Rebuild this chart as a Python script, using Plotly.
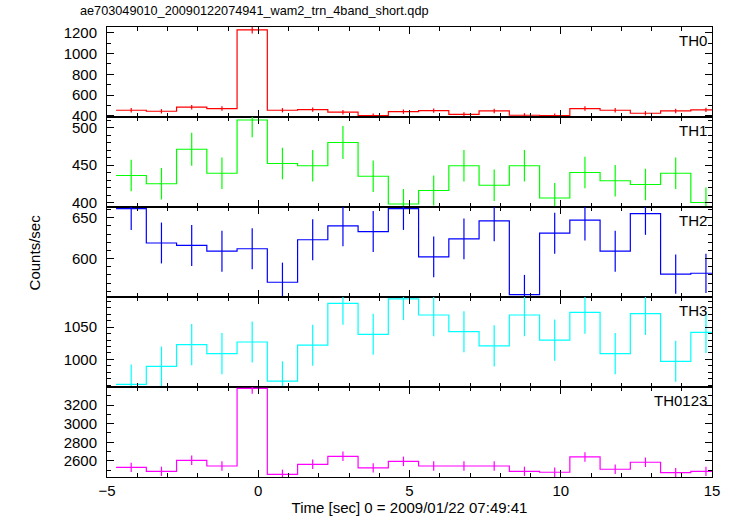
import plotly.graph_objects as go
from plotly.subplots import make_subplots

# bin centres (seconds since 2009/01/22 07:49:41), bin width 1 s
time_centers = [-4.2, -3.2, -2.2, -1.2, -0.2, 0.8, 1.8, 2.8, 3.8, 4.8,
                5.8, 6.8, 7.8, 8.8, 9.8, 10.8, 11.8, 12.8, 13.8, 14.8]
bin_width = 1.0

th0 = [455, 445, 484, 471, 1226, 455, 461, 436, 403, 441,
       451, 416, 448, 407, 403, 471, 455, 426, 448, 458]
th0_err = [21, 21, 22, 22, 35, 21, 21, 21, 20, 21,
           21, 20, 21, 20, 20, 22, 21, 21, 21, 21]

th1 = [436, 425, 471, 439, 510, 452, 449, 480, 435, 398,
       416, 449, 423, 449, 406, 440, 429, 424, 439, 400]
th1_err = [21, 21, 22, 21, 23, 21, 21, 22, 21, 20,
           20, 21, 21, 21, 20, 21, 21, 21, 21, 20]

th2 = [661, 619, 616, 609, 612, 571, 623, 640, 633, 661,
       602, 624, 646, 556, 631, 647, 609, 655, 581, 582]
th2_err = [26, 25, 25, 25, 25, 24, 25, 25, 25, 26,
           25, 25, 25, 24, 25, 25, 25, 26, 24, 24]

th3 = [961, 989, 1023, 1009, 1027, 966, 1022, 1087, 1039, 1094,
       1069, 1043, 1021, 1069, 1030, 1073, 1009, 1071, 997, 1042]
th3_err = [31, 31, 32, 32, 32, 31, 32, 33, 32, 33,
           33, 32, 32, 33, 32, 33, 32, 33, 32, 32]

th0123 = [2532, 2489, 2607, 2546, 3379, 2457, 2564, 2650, 2525, 2596,
          2546, 2546, 2546, 2489, 2479, 2643, 2511, 2586, 2474, 2489]
th0123_err = [50, 50, 51, 50, 58, 50, 51, 51, 50, 51,
              50, 50, 50, 50, 50, 51, 50, 51, 50, 50]

panel_names = ["TH0", "TH1", "TH2", "TH3", "TH0123"]
panel_values = [th0, th1, th2, th3, th0123]
panel_errors = [th0_err, th1_err, th2_err, th3_err, th0123_err]
panel_colors = ["#ff0000", "#00ff00", "#0000ff", "#00ffff", "#ff00ff"]
panel_ranges = [[390, 1254], [394, 514], [553, 663], [957, 1097], [2428, 3393]]
panel_dtick = [200, 50, 50, 50, 200]
panel_minor = [100, 10, 10, 10, 100]

FONT = "Liberation Sans, Arial, Helvetica, sans-serif"

fig = make_subplots(rows=5, cols=1, shared_xaxes=True, vertical_spacing=0)

edges = [c - bin_width / 2 for c in time_centers] + [time_centers[-1] + bin_width / 2]

for i, (name, vals, errs, col) in enumerate(zip(panel_names, panel_values, panel_errors, panel_colors)):
    r = i + 1
    fig.add_trace(go.Scatter(
        x=edges, y=list(vals) + [vals[-1]], mode="lines",
        line=dict(color=col, width=1.2, shape="hv"),
        showlegend=False, hoverinfo="skip"), row=r, col=1)
    fig.add_trace(go.Scatter(
        x=time_centers, y=vals, mode="markers",
        marker=dict(size=1, color=col, opacity=0),
        error_y=dict(type="data", array=errs, visible=True, color=col, thickness=1.2, width=0),
        showlegend=False), row=r, col=1)
    fig.update_yaxes(range=panel_ranges[i], dtick=panel_dtick[i],
                     minor=dict(dtick=panel_minor[i], ticklen=4, ticks="inside", tickcolor="black"),
                     row=r, col=1)
    fig.add_annotation(text=name, xref="x domain", yref="y domain" if r == 1 else f"y{r} domain",
                       x=0.995, y=0.97, xanchor="right", yanchor="top", showarrow=False,
                       font=dict(size=15, color="black", family=FONT))

fig.update_xaxes(range=[-5, 15], dtick=5, ticks="inside", ticklen=7, tickcolor="black",
                 minor=dict(dtick=1, ticklen=4, ticks="inside", tickcolor="black"),
                 showline=True, linecolor="black", linewidth=1, mirror="allticks",
                 showgrid=False, zeroline=False, automargin=False,
                 tickfont=dict(size=15, color="black", family=FONT))
fig.update_yaxes(ticks="inside", ticklen=7, tickcolor="black",
                 showline=True, linecolor="black", linewidth=1, mirror="allticks",
                 showgrid=False, zeroline=False, ticklabelstandoff=6, automargin=False,
                 tickfont=dict(size=15, color="black", family=FONT))
fig.update_xaxes(title=dict(text="Time [sec] 0 = 2009/01/22 07:49:41", standoff=4,
                            font=dict(size=15, color="black", family=FONT)), row=5, col=1)

fig.add_annotation(text="Counts/sec", xref="paper", yref="paper", x=-0.12, y=0.5,
                   textangle=-90, showarrow=False, xanchor="center", yanchor="middle",
                   font=dict(size=15, color="black", family=FONT))

fig.update_layout(
    width=733, height=516,
    margin=dict(l=107, r=21, t=27, b=39, autoexpand=False),
    paper_bgcolor="white", plot_bgcolor="white",
    title=dict(text="ae703049010_20090122074941_wam2_trn_4band_short.qdp",
               x=80 / 733, xanchor="left", y=1 - 11 / 516, yanchor="middle",
               automargin=False,
               font=dict(size=12.7, color="black", family=FONT)),
)

fig.write_html("out.html", config={"displayModeBar": False},
               post_script="document.body.style.margin='0';document.body.style.overflow='hidden';")
